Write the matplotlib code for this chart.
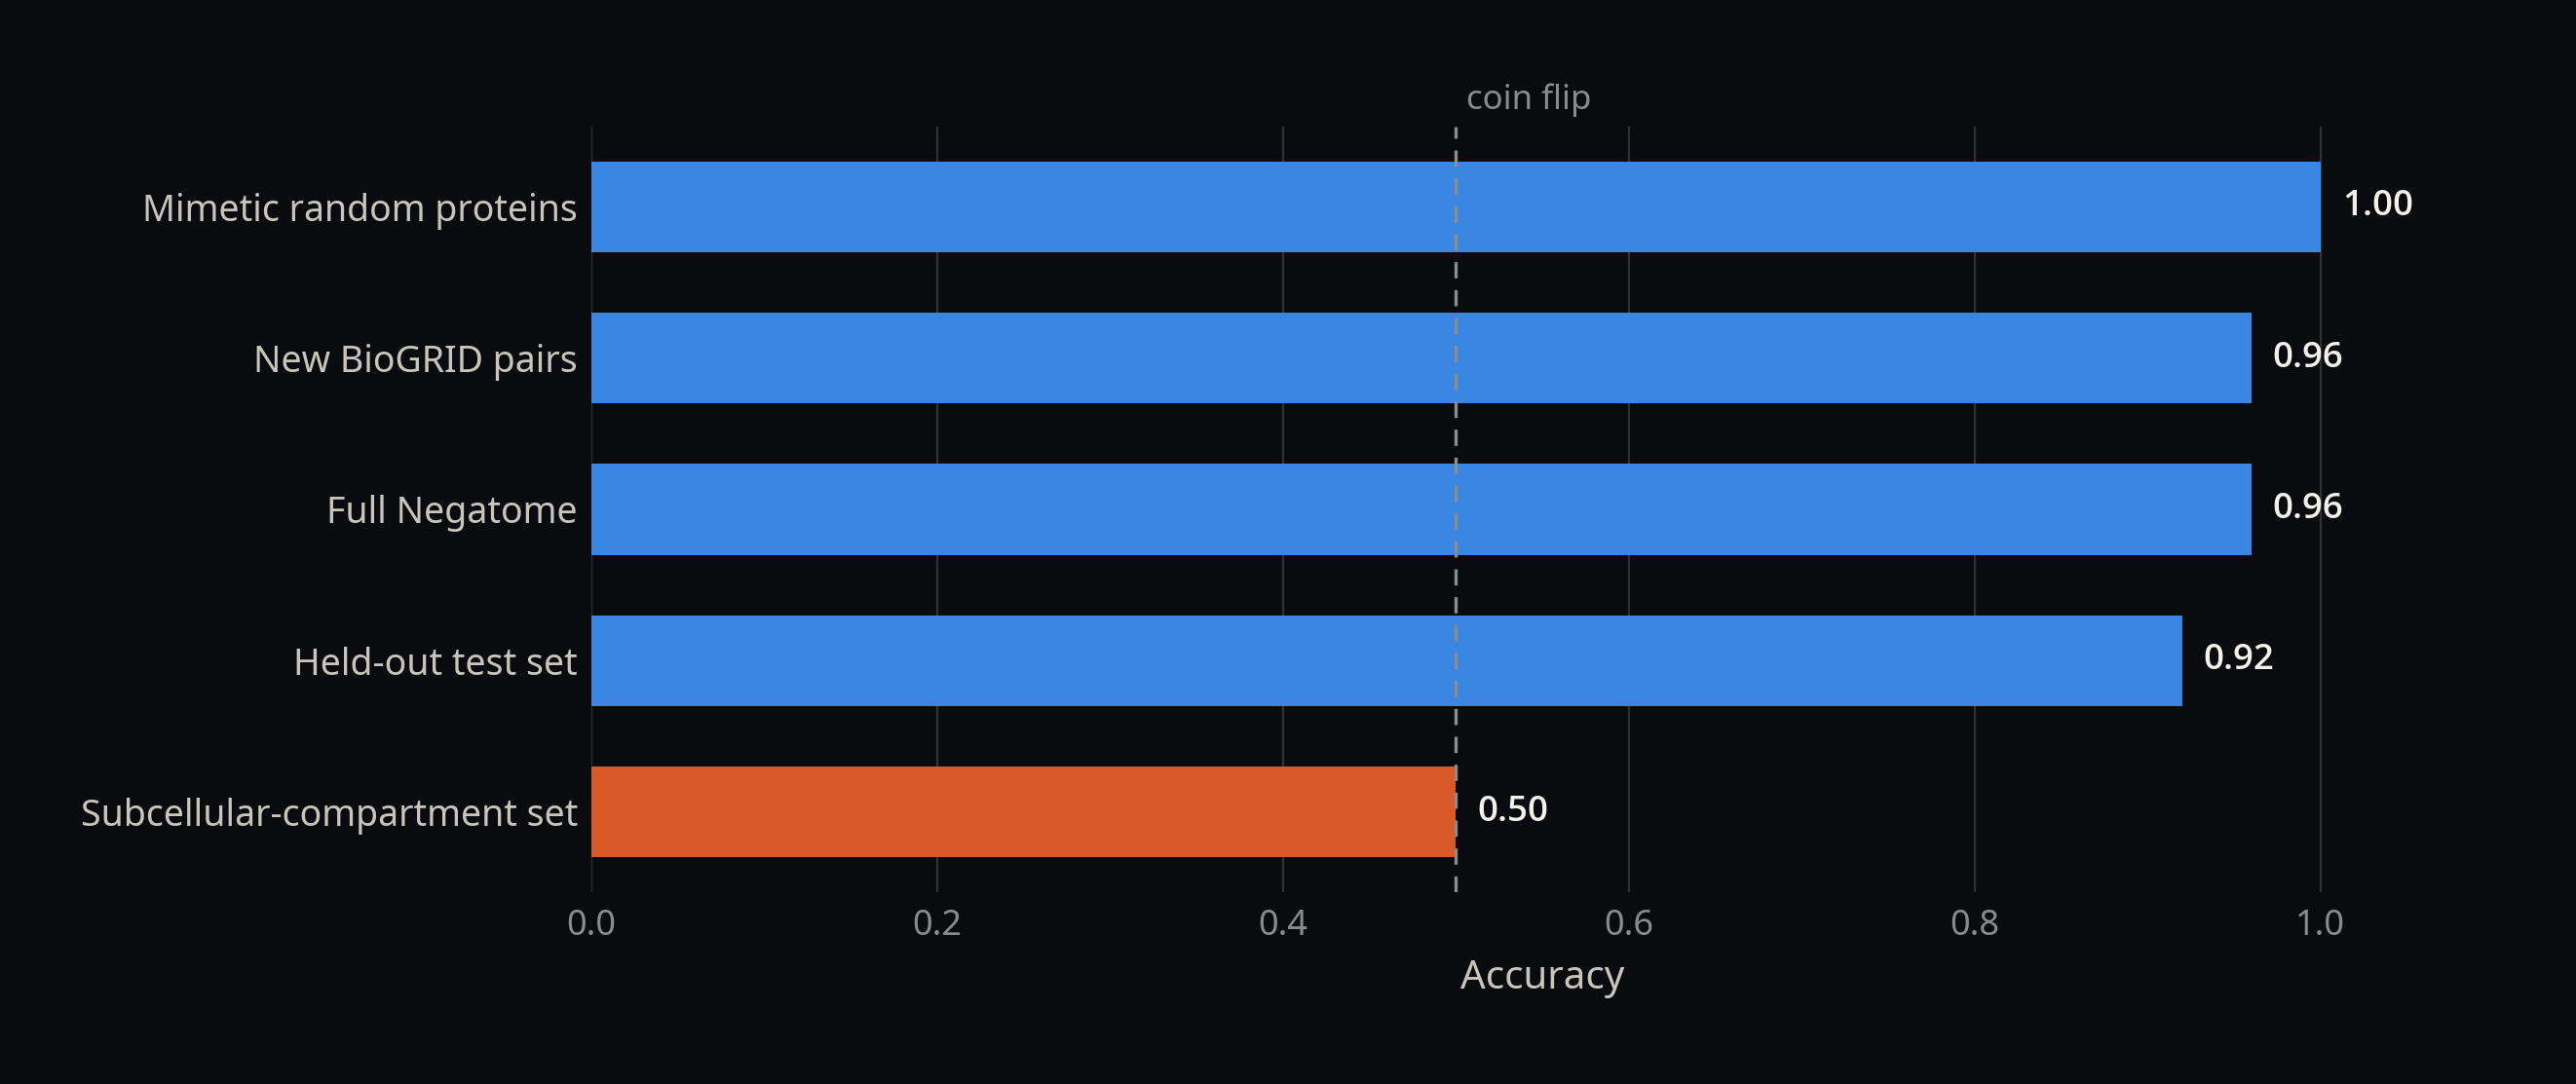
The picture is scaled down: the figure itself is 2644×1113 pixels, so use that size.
import matplotlib
matplotlib.use("Agg")
import matplotlib.pyplot as plt

categories = ["Mimetic random proteins", "New BioGRID pairs", "Full Negatome",
              "Held-out test set", "Subcellular-compartment set"]
accuracy = [1.00, 0.96, 0.96, 0.92, 0.50]
bar_colors = ["#3987e3", "#3987e3", "#3987e3", "#3987e3", "#d95a28"]
xticks = [0.0, 0.2, 0.4, 0.6, 0.8, 1.0]
baseline = 0.5

plt.rcParams['font.family'] = ['Noto Sans', 'DejaVu Sans']
BG = "#0a0b0f"
W, H, DPI = 2644, 1113, 200
fig = plt.figure(figsize=(W / DPI, H / DPI), dpi=DPI, facecolor=BG)
left, right, top, bottom = 607, 2559, 130, 916
ax = fig.add_axes([left / W, 1 - bottom / H, (right - left) / W, (bottom - top) / H])
ax.set_facecolor(BG)

ypos = list(range(len(categories)))
ax.barh(ypos, accuracy, height=0.6, color=bar_colors, zorder=3)
ax.set_ylim(len(categories) - 0.47, -0.53)
ax.set_xlim(0, 1.1)
ax.set_yticks(ypos)
ax.set_yticklabels(categories, color="#c9c5bd", fontsize=13.5)
ax.set_xticks(xticks)
ax.set_xticklabels([f"{t:.1f}" for t in xticks], color="#8b8b8b", fontsize=13)
ax.tick_params(axis='both', length=0)
ax.tick_params(axis='y', pad=5)
ax.tick_params(axis='x', pad=6)
for s in ax.spines.values():
    s.set_visible(False)
ax.grid(axis='x', color="#2f3034", linewidth=0.8, zorder=0)
ax.set_axisbelow(True)

for y, v in zip(ypos, accuracy):
    ax.annotate(f"{v:.2f}", xy=(v, y), xytext=(8, 0), textcoords="offset points",
                va="center", ha="left", color="#f4f1ea", fontsize=13.2,
                fontweight="semibold", family=["Open Sans", "DejaVu Sans"])

ax.axvline(baseline, color="#8c8c8c", linewidth=1.2, linestyle=(0, (5, 3.6)), zorder=4)
ax.annotate("coin flip", xy=(baseline, 1.0), xycoords=("data", "axes fraction"),
            xytext=(4, 3.5), textcoords="offset points", ha="left", va="bottom",
            color="#8b8b8b", fontsize=12.5)

ax.set_xlabel("Accuracy", color="#c9c5bd", fontsize=14.5, labelpad=6)

fig.savefig("out.png", dpi=DPI, facecolor=BG)
